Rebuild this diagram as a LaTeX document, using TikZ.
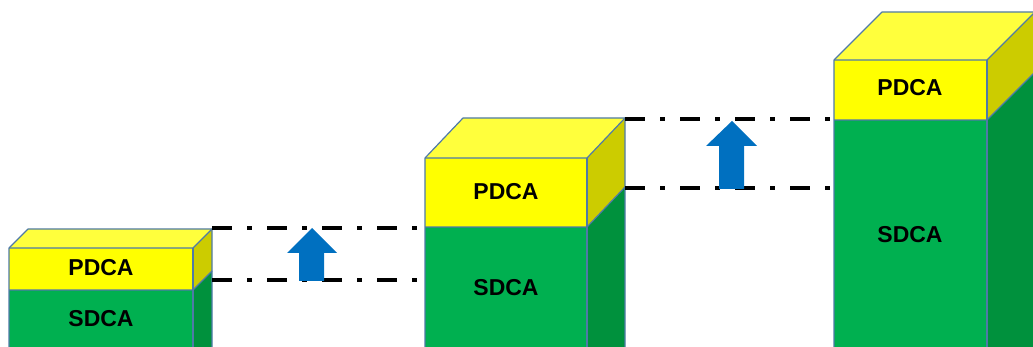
\documentclass[tikz,border=0pt]{standalone}
\usepackage{fontspec}
\setmainfont{Liberation Sans}
\definecolor{yelfront}{HTML}{FFFF00}
\definecolor{yeltop}{HTML}{FFFF3C}
\definecolor{yelside}{HTML}{CCCC00}
\definecolor{grnfront}{HTML}{00B050}
\definecolor{grnside}{HTML}{00913D}
\definecolor{edgeblue}{HTML}{4F7AA8}
\definecolor{arrowblue}{HTML}{0070C0}
\tikzset{
  face/.style={draw=edgeblue, line width=1.2pt, line join=round},
  label/.style={font=\bfseries\fontsize{23}{23}\selectfont, text=black, inner sep=0pt},
  levelline/.style={line width=3.5pt, dash pattern=on 20pt off 15pt on 5pt off 15pt},
  liftarrow/.style={fill=arrowblue, draw=none}
}
% one stacked box: #1 left x, #2 right x, #3 top y, #4 middle y, #5 depth x, #6 depth y
\newcommand\stackedbox[6]{%
  % green front and side
  \fill[grnfront] (#1,#4) rectangle (#2,360);
  \fill[grnside] (#2,#4) -- ++(#5,-#6) -- ++(0,400) -- (#2,360) -- cycle;
  % yellow front, side and top
  \fill[yelfront] (#1,#3) rectangle (#2,#4);
  \fill[yelside] (#2,#3) -- ++(#5,-#6) -- ++(0,#4-#3) -- (#2,#4) -- cycle;
  \fill[yeltop] (#1,#3) -- ++(#5,-#6) -- ++(#2-#1,0) -- (#2,#3) -- cycle;
  % outlines
  \draw[face] (#1,360) -- (#1,#3) -- ++(#5,-#6) -- ++(#2-#1,0) -- ++(0,400);
  \draw[face] (#1,#3) -- (#2,#3) -- ++(#5,-#6);
  \draw[face] (#2,#3) -- (#2,360);
  \draw[face] (#1,#4) -- (#2,#4) -- ++(#5,-#6);
}
\begin{document}
\begin{tikzpicture}[x=1pt,y=-1pt]
\useasboundingbox (0,0) rectangle (1033,347);
\clip (0,0) rectangle (1033,347);

% three boxes, growing from left to right
\stackedbox{9}{193}{248}{290}{19}{19}
\stackedbox{425}{587}{158}{227}{38}{40}
\stackedbox{834}{987}{60}{120}{48}{48}

% labels
\node[label] (pdcaA) at (101,268) {PDCA};
\node[label] (sdcaA) at (101,319) {SDCA};
\node[label] (pdcaB) at (506,192) {PDCA};
\node[label] (sdcaB) at (506,288) {SDCA};
\node[label] (pdcaC) at (910,88) {PDCA};
\node[label] (sdcaC) at (910,235) {SDCA};

% level lines between neighbouring boxes
\coordinate (aTop) at (212,228);
\coordinate (aBot) at (212,280);
\coordinate (bTopL) at (425,228);
\coordinate (bBotL) at (425,280);
\coordinate (bTop) at (625,119);
\coordinate (bBot) at (625,188);
\coordinate (cTopL) at (834,119);
\coordinate (cBotL) at (834,188);
\draw[levelline] (aTop) -- (bTopL);
\draw[levelline] (aBot) -- (bBotL);
\draw[levelline] (bTop) -- (cTopL);
\draw[levelline] (bBot) -- (cBotL);

% upward block arrows
\fill[liftarrow] (312,228) -- (337,253) -- (324,253) -- (324,281) -- (299,281) -- (299,253) -- (287,253) -- cycle;
\fill[liftarrow] (732,121) -- (757,146) -- (744,146) -- (744,189) -- (719,189) -- (719,146) -- (706,146) -- cycle;
\end{tikzpicture}
\end{document}
